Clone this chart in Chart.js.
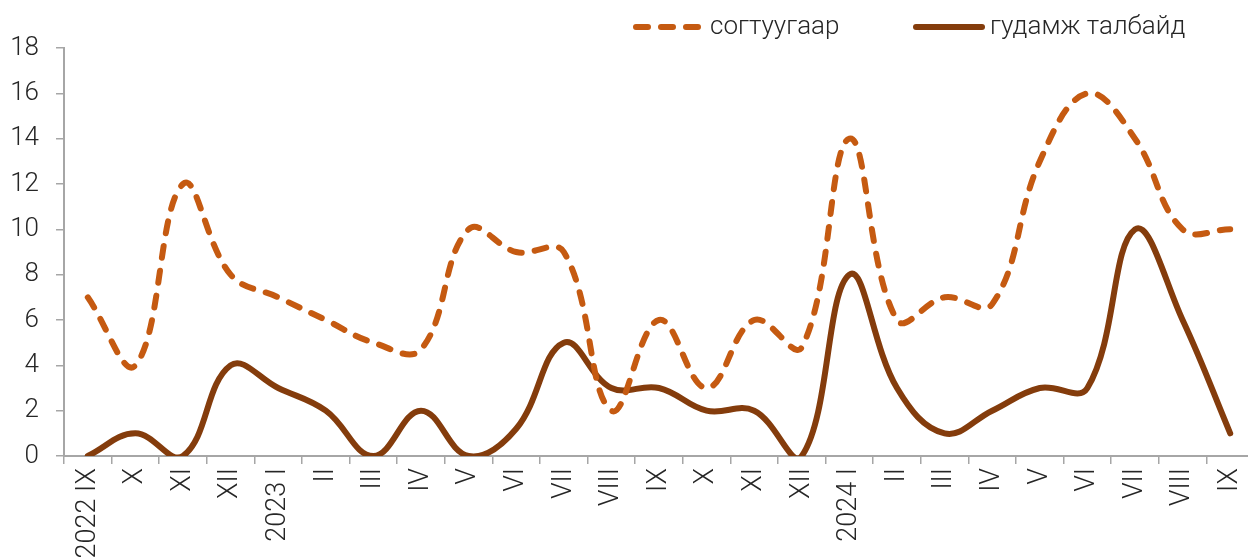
<!DOCTYPE html>
<html>
<head>
<meta charset="utf-8">
<script src="https://cdn.jsdelivr.net/npm/chart.js@4.4.1/dist/chart.umd.min.js"></script>
<style>
  html, body { margin: 0; padding: 0; background: #fff; overflow: hidden; }
  #wrap { width: 1254px; height: 557px; }
</style>
</head>
<body>
<div id="wrap"><canvas id="chart" width="1254" height="557"></canvas></div>
<script>
const categories = ['2022 IX', 'X', 'XI', 'XII', '2023 I', 'II', 'III', 'IV', 'V', 'VI', 'VII', 'VIII',
  'IX', 'X', 'XI', 'XII', '2024 I', 'II', 'III', 'IV', 'V', 'VI', 'VII', 'VIII', 'IX'];
const seriesNames = ['согтуугаар', 'гудамж талбайд'];
const drunkValues = [7, 4, 12, 8, 7, 6, 5, 4.7, 10, 9, 9, 2, 6, 3, 6, 4.8, 14, 6, 7, 6.7, 13, 16, 14, 10, 10];
const streetValues = [0, 1, 0, 4, 3, 2, 0, 2, 0, 1.2, 5, 3, 3, 2, 2, 0, 8, 3, 1, 2, 3, 3, 10, 6, 1];
const yMin = 0, yMax = 18, yStep = 2;

const ORANGE = '#C55A11';
const BROWN = '#843C0C';
const AXIS = '#a6a6a6';
const TEXT = '#262626';
const FONT = 'Roboto';
const DASH = [12, 13];

// legend drawn by hand so the dash sample matches the lines
const lineLegend = {
  id: 'lineLegend',
  afterDraw(chart) {
    const ctx = chart.ctx;
    const items = [
      { label: seriesNames[0], color: ORANGE, dash: DASH, x0: 636, x1: 702, tx: 710 },
      { label: seriesNames[1], color: BROWN, dash: [], x0: 916, x1: 982, tx: 990 }
    ];
    const y = 27;
    ctx.save();
    items.forEach(it => {
      ctx.beginPath();
      ctx.setLineDash(it.dash);
      ctx.lineCap = 'round';
      ctx.lineWidth = 6;
      ctx.strokeStyle = it.color;
      ctx.moveTo(it.x0, y);
      ctx.lineTo(it.x1, y);
      ctx.stroke();
      ctx.setLineDash([]);
      ctx.fillStyle = TEXT;
      ctx.font = '300 26px ' + FONT;
      ctx.textBaseline = 'middle';
      ctx.textAlign = 'left';
      ctx.fillText(it.label, it.tx, y);
    });
    ctx.restore();
  }
};

new Chart(document.getElementById('chart'), {
  type: 'line',
  data: {
    labels: categories,
    datasets: [
      { label: seriesNames[0], data: drunkValues, borderColor: ORANGE, borderWidth: 6,
        borderDash: DASH, borderCapStyle: 'round', pointRadius: 0, tension: 0.4, fill: false },
      { label: seriesNames[1], data: streetValues, borderColor: BROWN, borderWidth: 6,
        borderCapStyle: 'round', pointRadius: 0, tension: 0.4, fill: false }
    ]
  },
  options: {
    responsive: false,
    animation: false,
    layout: { padding: { top: 48, left: 0, right: 0, bottom: 0 } },
    plugins: { legend: { display: false }, tooltip: { enabled: false } },
    elements: { line: { capBezierPoints: false } },
    scales: {
      x: {
        offset: true,
        grid: { offset: true, drawOnChartArea: false, drawTicks: true, tickLength: 8, color: AXIS, lineWidth: 1.5 },
        border: { color: AXIS, width: 2 },
        ticks: { autoSkip: false, minRotation: 90, maxRotation: 90, padding: 4, color: TEXT,
          font: { family: FONT, size: 27, weight: '300' } },
        afterFit(scale) {
          scale.height = 101;
          scale.paddingLeft = 0;
          scale.paddingRight = 0;
        }
      },
      y: {
        min: yMin, max: yMax,
        grid: { drawOnChartArea: false, drawTicks: true, tickLength: 8, color: AXIS, lineWidth: 1.5 },
        border: { color: AXIS, width: 2 },
        ticks: { stepSize: yStep, padding: 17, color: TEXT, font: { family: FONT, size: 26, weight: '300' } },
        afterFit(scale) { scale.width = 64; }
      }
    }
  },
  plugins: [lineLegend]
});
</script>
</body>
</html>
